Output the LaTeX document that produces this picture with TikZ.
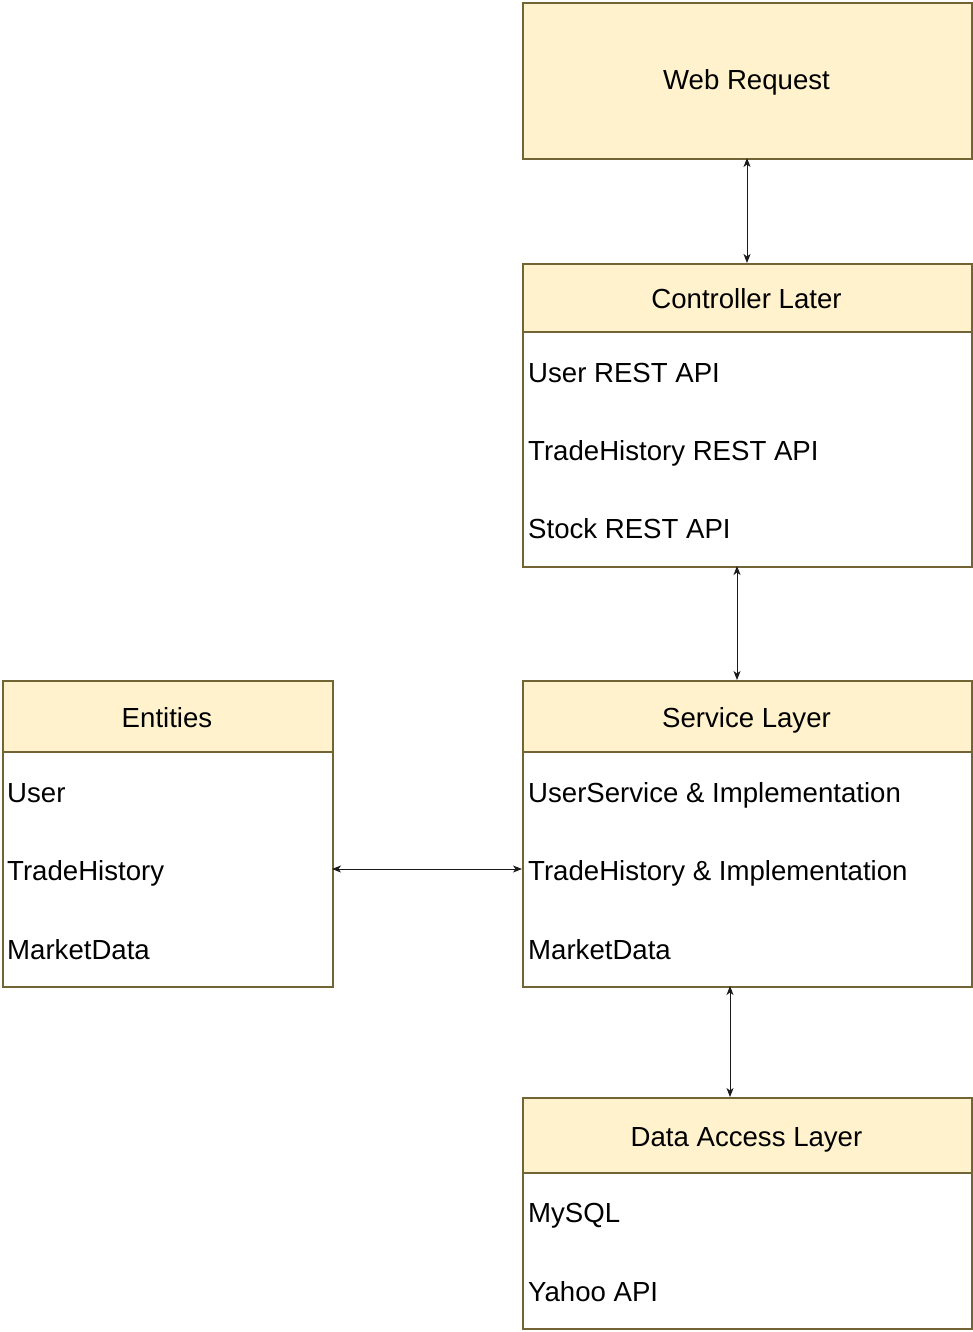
\documentclass[tikz,border=0pt]{standalone}
\usepackage{fontspec}
\setmainfont{Liberation Sans}
\usetikzlibrary{arrows.meta}
\definecolor{boxfill}{HTML}{FFF2CC}
\definecolor{boxline}{HTML}{736436}
\definecolor{arrowcol}{HTML}{1A1A1A}
\begin{document}
\begin{tikzpicture}[x=1pt,y=1pt,
  container/.style={draw=boxline, line width=1.6pt, fill=white, anchor=north west, inner sep=0pt},
  header/.style={draw=boxline, line width=1.6pt, fill=boxfill, anchor=north west, inner sep=0pt},
  label/.style={font=\fontsize{27.6}{32}\selectfont, inner sep=0pt, text height=19.8pt, text depth=0pt},
  item/.style={font=\fontsize{27.6}{32}\selectfont, inner sep=0pt, anchor=west, text height=19.8pt, text depth=0pt},
  link/.style={draw=arrowcol, line width=1pt, {Stealth[length=9pt,width=7pt,inset=2.5pt]}-{Stealth[length=9pt,width=7pt,inset=2.5pt]}}
]
\useasboundingbox (0,0) rectangle (972,-1332);

% Web Request
\node[header, minimum width=449, minimum height=156] (web) at (522,-2) {};
\node[label] (webt) at (746.5,-80) {Web Request};

% Controller
\node[container, minimum width=449, minimum height=303] (ctrl) at (522,-263) {};
\node[header, minimum width=449, minimum height=68] (ctrlh) at (522,-263) {};
\node[label] (ctrlt) at (746.5,-299) {Controller Later};
\node[item] (c1) at (528,-373) {User REST API};
\node[item] (c2) at (528,-451) {TradeHistory REST API};
\node[item] (c3) at (528,-529) {Stock REST API};

% Service Layer
\node[container, minimum width=449, minimum height=306] (svc) at (522,-680) {};
\node[header, minimum width=449, minimum height=71] (svch) at (522,-680) {};
\node[label] (svct) at (746.5,-718) {Service Layer};
\node[item] (s1) at (528,-793) {UserService \& Implementation};
\node[item] (s2) at (528,-871) {TradeHistory \& Implementation};
\node[item] (s3) at (528,-950) {MarketData};

% Entities
\node[container, minimum width=330, minimum height=306] (ent) at (2,-680) {};
\node[header, minimum width=330, minimum height=71] (enth) at (2,-680) {};
\node[label] (entt) at (167,-718) {Entities};
\node[item] (e1) at (7,-793) {User};
\node[item] (e2) at (7,-871) {TradeHistory};
\node[item] (e3) at (7,-950) {MarketData};

% Data Access Layer
\node[container, minimum width=449, minimum height=231] (dal) at (522,-1097) {};
\node[header, minimum width=449, minimum height=75] (dalh) at (522,-1097) {};
\node[label] (dalt) at (746.5,-1137) {Data Access Layer};
\node[item] (d1) at (528,-1213) {MySQL};
\node[item] (d2) at (528,-1292) {Yahoo API};

% connectors
\coordinate (a1) at (747,-158);
\coordinate (a2) at (747,-263);
\draw[link] (a1) -- (a2);
\coordinate (b1) at (737,-566);
\coordinate (b2) at (737,-680);
\draw[link] (b1) -- (b2);
\coordinate (h1) at (332,-869);
\coordinate (h2) at (522,-869);
\draw[link] (h1) -- (h2);
\coordinate (d1a) at (730,-986);
\coordinate (d2a) at (730,-1097);
\draw[link] (d1a) -- (d2a);
\end{tikzpicture}
\end{document}
